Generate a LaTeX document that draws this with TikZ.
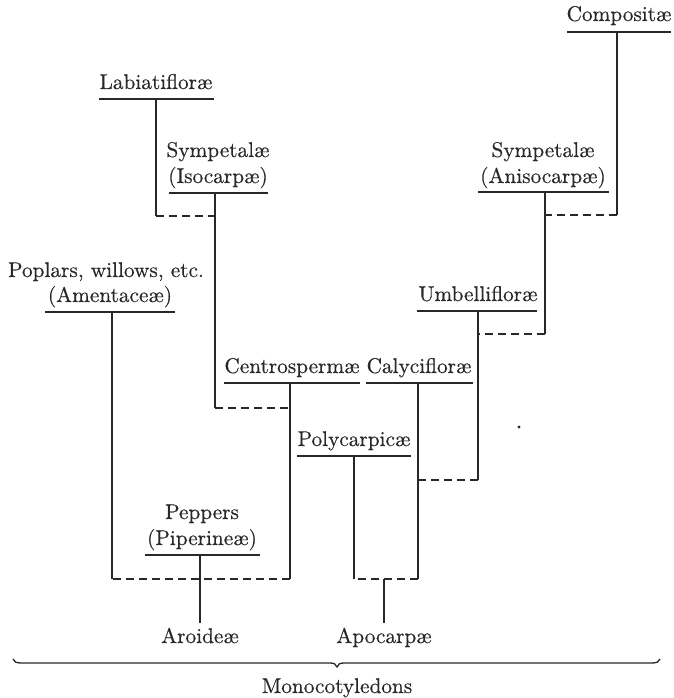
\documentclass[tikz,border=0pt]{standalone}
\usepackage{fontspec}
\newfontfamily\lmten{lmroman10-regular}[Extension=.otf, FakeBold=0.4]
\begin{document}
\definecolor{inkc}{RGB}{40,40,40}
\begin{tikzpicture}[x=1pt,y=-1pt,
  lbl/.style={anchor=base, inner sep=0pt, font=\lmten\fontsize{21.3}{26}\selectfont, text=inkc},
  ul/.style={draw=inkc, line width=1.3pt},
  stem/.style={draw=inkc, line width=1.3pt},
  link/.style={draw=inkc, line width=1.3pt, dash pattern=on 8pt off 5pt},
  ]
\useasboundingbox (0,0) rectangle (673,698);

% ---- labels ----
\node[lbl] (comp) at (619,21) {Compositæ};
\node[lbl] (anisoA) at (543,157) {Sympetalæ};
\node[lbl] (anisoB) at (543,183) {(Anisocarpæ)};
\node[lbl] (umb) at (478,301) {Umbellifloræ};
\node[lbl] (caly) at (419,373) {Calycifloræ};
\node[lbl] (poly) at (354,446) {Polycarpicæ};
\node[lbl] (apo) at (384,643) {Apocarpæ};
\node[lbl] (labi) at (156,89) {Labiatifloræ};
\node[lbl] (isoA) at (218,157) {Sympetalæ};
\node[lbl] (isoB) at (218,183) {(Isocarpæ)};
\node[lbl] (cent) at (292,373) {Centrospermæ};
\node[lbl] (amenA) at (106,277) {Poplars, willows, etc.};
\node[lbl] (amenB) at (110,302) {(Amentaceæ)};
\node[lbl] (pepA) at (202,519) {Peppers};
\node[lbl] (pepB) at (202,545) {(Piperineæ)};
\node[lbl] (aro) at (200,643) {Aroideæ};
\node[lbl] (mono) at (337,693) {Monocotyledons};

% ---- underlines ----
\draw[ul] (567,32) -- (671,32);
\draw[ul] (478,192) -- (609,192);
\draw[ul] (417,311) -- (537,311);
\draw[ul] (366,383) -- (473,383);
\draw[ul] (297,456) -- (411,456);
\draw[ul] (99,99) -- (214,99);
\draw[ul] (169,193) -- (268,193);
\draw[ul] (224,383) -- (360,383);
\draw[ul] (45,312) -- (175,312);
\draw[ul] (145,555) -- (260,555);

% ---- stem coordinates ----
\coordinate (cS) at (617,32);  \coordinate (cJ) at (617,215);
\coordinate (aS) at (545,192); \coordinate (aJ) at (545,334);
\coordinate (uS) at (478,311); \coordinate (uJ) at (478,480);
\coordinate (kS) at (418,383); \coordinate (kJ) at (418,579);
\coordinate (pS) at (354,456); \coordinate (pJ) at (354,579);
\coordinate (apS) at (384,579); \coordinate (apE) at (384,623);
\coordinate (lS) at (156,99);  \coordinate (lJ) at (156,216);
\coordinate (iS) at (215,193); \coordinate (iJ) at (215,408);
\coordinate (ceS) at (290,383); \coordinate (ceJ) at (290,579);
\coordinate (amS) at (112,312); \coordinate (amJ) at (112,579);
\coordinate (peS) at (200,555); \coordinate (peE) at (200,623);

% ---- right group ----
\draw[stem] (cS) -- (cJ);
\draw[link] (cJ) -- (cJ -| aS);
\draw[stem] (aS) -- (aJ);
\draw[link] (aJ) -- (aJ -| uS);
\draw[stem] (uS) -- (uJ);
\draw[link] (uJ) -- (uJ -| kS);
\draw[stem] (kS) -- (kJ);
\draw[link] (kJ) -- (pJ);
\draw[stem] (pS) -- (pJ);
\draw[stem] (apS) -- (apE);

% ---- left group ----
\draw[stem] (lS) -- (lJ);
\draw[link] (lJ) -- (lJ -| iS);
\draw[stem] (iS) -- (iJ);
\draw[link] (iJ) -- (iJ -| ceS);
\draw[stem] (ceS) -- (ceJ);
\draw[link] (ceJ) -- (amJ);
\draw[stem] (amS) -- (amJ);
\draw[stem] (peS) -- (peE);

% ---- stray dot ----
\fill[inkc] (519,427) circle (1.7pt);

% ---- brace ----
\coordinate (bL) at (13,659);
\coordinate (bR) at (660,659);
\coordinate (bT) at (337,667);
\draw[draw=inkc, line width=1.3pt]
  (bL) .. controls (14,662) and (16,663) .. (22,663)
  -- (330,663) .. controls (334,663) and (336,664) .. (bT)
  .. controls (338,664) and (340,663) .. (344,663)
  -- (651,663) .. controls (657,663) and (659,662) .. (bR);
\end{tikzpicture}
\end{document}
